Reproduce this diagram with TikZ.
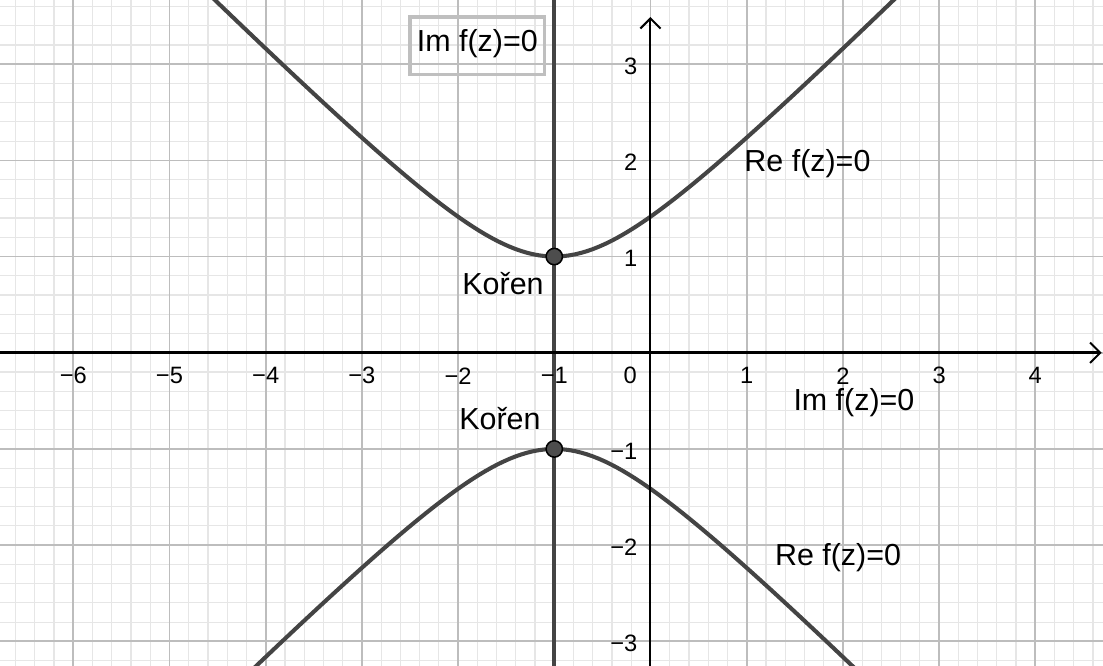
\documentclass[tikz,border=0pt]{standalone}
\usepackage{fontspec}
\setmainfont{Liberation Sans}
\usetikzlibrary{arrows.meta}
\definecolor{curvegray}{HTML}{444444}
\definecolor{majorgrid}{HTML}{BDBDBD}
\definecolor{minorgrid}{HTML}{E6E6E6}
\definecolor{boxgray}{HTML}{BFBFBF}
\definecolor{ptfill}{HTML}{4D4D4D}
\tikzset{
  minorline/.style={draw=minorgrid, line width=0.35pt},
  majorline/.style={draw=majorgrid, line width=0.5pt},
  curveline/.style={draw=curvegray, line width=1.2pt},
  ticklab/.style={font=\fontsize{7}{8}\selectfont, inner sep=0pt},
  biglab/.style={font=\fontsize{9}{10}\selectfont, inner sep=0pt},
  rootpt/.style={circle, fill=ptfill, draw=black, line width=0.45pt, minimum size=0.17cm, inner sep=0pt},
  axisline/.style={draw=black},
  axtip/.style={-{Straight Barb[length=3pt,width=6pt,line width=0.6pt]}},
}
\begin{document}
\begin{tikzpicture}[x=1cm,y=1cm]
\useasboundingbox (-6.762,-3.256) rectangle (4.704,3.667);
\fill[white] (-6.762,-3.256) rectangle (4.704,3.667);
\begin{scope}
\clip (-6.762,-3.256) rectangle (4.704,3.667);
% minor grid
\foreach \i in {-34,...,24} {
  \draw[minorline] (\i*0.2,-3.3) -- (\i*0.2,3.7);
}
\foreach \j in {-17,...,19} {
  \draw[minorline] (-6.8,\j*0.2) -- (4.8,\j*0.2);
}
% major grid
\foreach \i in {-6,...,4} {
  \draw[majorline] (\i,-3.3) -- (\i,3.7);
}
\foreach \j in {-3,...,3} {
  \draw[majorline] (-6.8,\j) -- (4.8,\j);
}
% curves
\draw[curveline] plot[domain=-4.7:2.7, samples=120] (\x,{sqrt(1+(\x+1)^2)});
\draw[curveline] plot[domain=-4.7:2.7, samples=120] (\x,{-sqrt(1+(\x+1)^2)});
\draw[curveline] (-1,-3.3) -- (-1,3.7);
\end{scope}
% axes
\coordinate (xl) at (-6.762,0);
\coordinate (xr) at (4.69,0);
\coordinate (yb) at (0,-3.256);
\coordinate (yt) at (0,3.49);
\draw[axisline, line width=0.9pt, axtip] (xl) -- (xr);
\draw[axisline, line width=0.6pt, axtip] (yb) -- (yt);
% x tick labels
\foreach \v/\t in {-6/{−6},-5/{−5},-4/{−4},-3/{−3},-2/{−2},-1/{−1},1/1,2/2,3/3,4/4} {
  \node[ticklab] (xt\v) at (\v,-0.24) {\t};
}
\node[ticklab] (xt0) at (-0.21,-0.24) {0};
% y tick labels
\foreach \v/\t in {-3/{−3},-2/{−2},-1/{−1},1/1,2/2,3/3} {
  \node[ticklab, anchor=east] (yt\v) at (-0.13,\v-0.02) {\t};
}
% roots
\node[rootpt] (r1) at (-1,1) {};
\node[rootpt] (r2) at (-1,-1) {};
% labels
\node[biglab] (k1) at (-1.533,0.72) {Kořen};
\node[biglab] (k2) at (-1.565,-0.68) {Kořen};
\node[biglab] (re1) at (1.632,1.97) {Re f(z)=0};
\node[biglab] (re2) at (1.95,-2.125) {Re f(z)=0};
\node[biglab] (im2) at (2.115,-0.52) {Im f(z)=0};
\draw[boxgray, line width=0.9pt] (-2.50,2.89) rectangle (-1.097,3.49);
\node[biglab] (im1) at (-1.80,3.21) {Im f(z)=0};
\end{tikzpicture}
\end{document}
